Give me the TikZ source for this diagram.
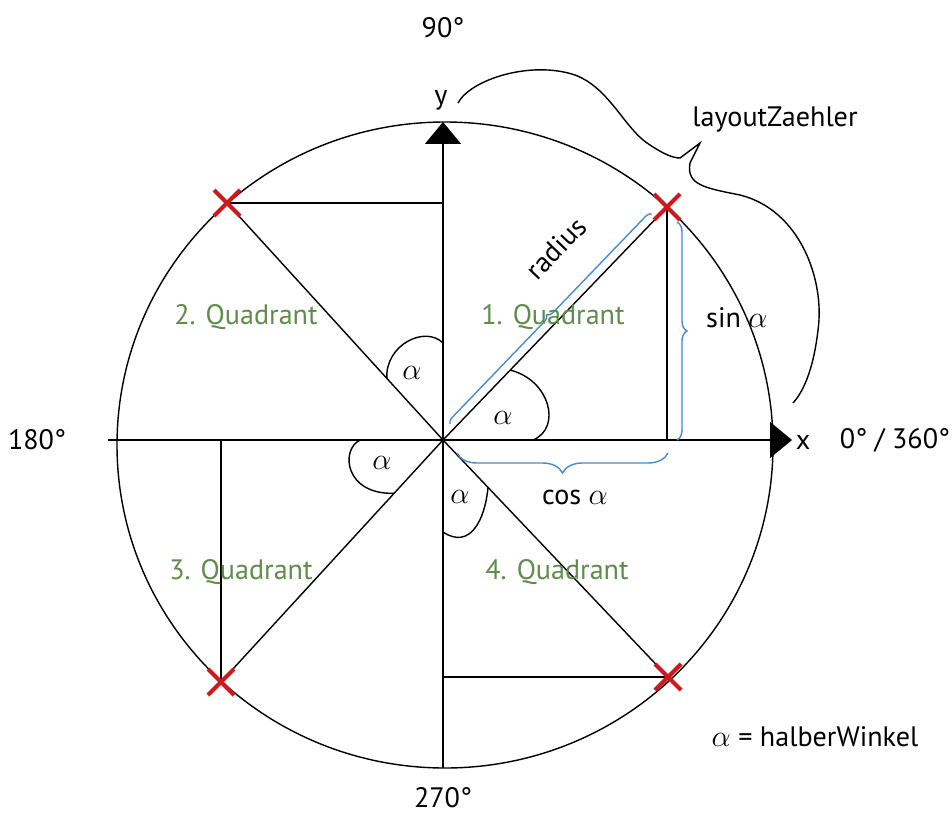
\documentclass[tikz,border=0pt]{standalone}
\usepackage{fontspec}
\setmainfont{PT Sans}
\usepackage{tikz}
\usetikzlibrary{calc,arrows.meta,decorations.pathreplacing}
\definecolor{quadgreen}{RGB}{95,140,75}
\definecolor{braceblue}{RGB}{70,140,205}
\definecolor{crossred}{RGB}{205,25,30}
\tikzset{
	axisline/.style={draw=black,line width=0.9pt},
	thinline/.style={draw=black,line width=0.8pt},
	axisarrow/.style={-{Triangle[length=0.44cm,width=0.72cm]},line width=0.9pt},
	quadlabel/.style={text=quadgreen,font=\fontsize{16}{18}\selectfont},
	plainlabel/.style={font=\fontsize{16}{18}\selectfont},
	bluebrace/.style={draw=braceblue,line width=0.8pt,decorate,decoration={brace,amplitude=#1}},
	bluebrace/.default=0.2cm,
	crossmark/.style={draw=crossred,line width=2.4pt},
	petal/.style={draw=black,line width=0.8pt}
}

\begin{document}
\begin{tikzpicture}[x=0.02cm,y=-0.02cm,
			bigbrace/.style={draw=black,line width=0.8pt}]
			\useasboundingbox (0,0) rectangle (952,818);
			
			\coordinate (O) at (443,440);
			\coordinate (xl) at (108,440);
			\coordinate (xr) at (792,440);
			\coordinate (yb) at (443,768);
			\coordinate (yt) at (443,122);
			\coordinate (P1) at (667,207);
			\coordinate (P2) at (227,203);
			\coordinate (P3) at (221,682);
			\coordinate (P4) at (668,677);
			
			% circle and axes
			\draw[thinline] (445,445) ellipse [x radius=328, y radius=323];
			\draw[axisarrow] (xl) -- (xr);
			\draw[axisarrow] (yb) -- (yt);
			
			\foreach \p in {P1,P2,P3,P4} \draw[thinline] (O) -- (\p);
			\draw[thinline] (P2) -- (P2 -| O);
			\draw[thinline] (P1) -- (P1 |- O);
			\draw[thinline] (P3) -- (P3 |- O);
			\draw[thinline] (P4) -- (P4 -| O);
			
			% angle loops
			\draw[petal] ($(O)!0.30!(P1)$) .. controls (550,380) and (562,428) .. (533,440);
			\draw[petal] (443,343) .. controls (425,325) and (385,345) .. ($(O)!0.26!(P2)$);
			\draw[petal] (360,440) .. controls (340,450) and (345,495) .. ($(O)!0.22!(P3)$);
			\draw[petal] ($(O)!0.20!(P4)$) .. controls (485,520) and (470,550) .. (443,532);
			\node[plainlabel] (a1) at (503,418) {$\alpha$};
			\node[plainlabel] (a2) at (412,373) {$\alpha$};
			\node[plainlabel] (a3) at (382,463) {$\alpha$};
			\node[plainlabel] (a4) at (460,497) {$\alpha$};
			
			% blue braces
			\draw[bluebrace=0.12cm] (450,424) -- (652,214);
			\draw[bluebrace] (677,222) -- (677,440);
			\draw[bluebrace=0.4cm] (668,453) -- (457,453);
			
			% layoutZaehler brace
			\draw[bigbrace] (458,103) .. controls (470,80) and (530,60) .. (575,75)
			.. controls (610,88) and (625,130) .. (650,145)
			.. controls (662,153) and (672,158) .. (680,158)
			-- (700,143) -- (690,163)
			.. controls (686,185) and (705,188) .. (740,195)
			.. controls (800,210) and (825,280) .. (818,330)
			.. controls (814,365) and (805,390) .. (793,403);
			
			\foreach \p in {P1,P2,P3,P4} {
				\draw[crossmark] ([shift={(-13,-13)}]\p) -- ([shift={(13,13)}]\p);
				\draw[crossmark] ([shift={(-13,13)}]\p) -- ([shift={(13,-13)}]\p);
			}
			
			\node[plainlabel] (deg90) at (443,28) {90°};
			\node[plainlabel] (deg180) at (37,440) {180°};
			\node[plainlabel] (deg270) at (443,798) {270°};
			\node[plainlabel] (deg0) at (895,440) {0° / 360°};
			\node[plainlabel] (ylab) at (441,100) {y};
			\node[plainlabel] (xlab) at (803,442) {x};
			\node[plainlabel] (layout) at (775,120) {layoutZaehler};
			\node[quadlabel] (q1) at (553,317) {1. Quadrant};
			\node[quadlabel] (q2) at (246,317) {2. Quadrant};
			\node[quadlabel] (q3) at (241,572) {3. Quadrant};
			\node[quadlabel] (q4) at (557,572) {4. Quadrant};
			\node[plainlabel,rotate=46] (radlab) at (556,248) {radius};
			\node[plainlabel,anchor=west] (sinlab) at (700,318) {sin $\alpha$};
			\node[plainlabel] (coslab) at (575,497) {cos $\alpha$};
			\node[plainlabel] (halb) at (815,737) {$\alpha$ = halberWinkel};
		\end{tikzpicture}
\end{document}
